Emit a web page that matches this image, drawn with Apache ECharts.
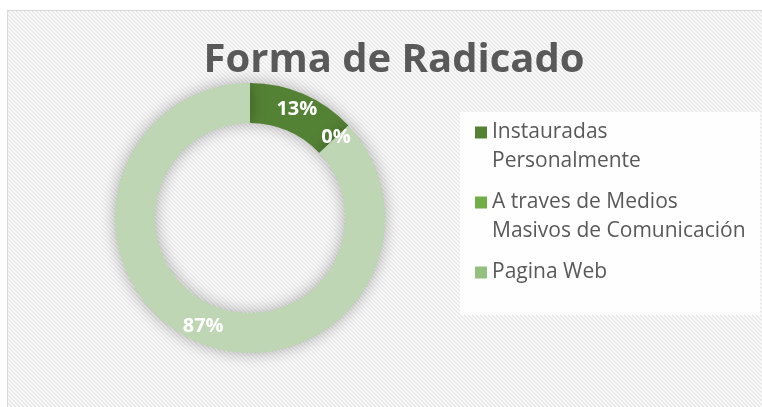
<!DOCTYPE html>
<html>
<head>
<meta charset="utf-8">
<script src="https://cdn.jsdelivr.net/npm/echarts@6/dist/echarts.min.js"></script>
<style>
  html, body { margin: 0; padding: 0; background: #fff; }
  .wrap {
    position: absolute;
    left: 7px;
    top: 10px;
    border-left: 1px solid #d9d9d9;
    border-top: 1px solid #d9d9d9;
  }
  #main { width: 754px; height: 396px; }
</style>
</head>
<body>
<div class="wrap"><div id="main"></div></div>
<script>
// datos del grafico
const categorias = ['Instauradas Personalmente', 'A traves de Medios Masivos de Comunicación', 'Pagina Web'];
const etiquetasLegend = ['Instauradas\nPersonalmente', 'A traves de Medios\nMasivos de Comunicación', 'Pagina Web'];
const valores = [13, 0, 87];
const coloresSlice = ['#548235', '#70AD47', '#BED6B3'];
const coloresLegend = ['#548235', '#70AD47', '#93C07F'];

// fondo rayado
function hatch() {
  const c = document.createElement('canvas');
  c.width = 4; c.height = 4;
  const ctx = c.getContext('2d');
  ctx.fillStyle = '#ffffff';
  ctx.fillRect(0, 0, 4, 4);
  ctx.strokeStyle = '#e6e6e6';
  ctx.lineWidth = 1.4;
  [-4, 0, 4].forEach(off => {
    ctx.beginPath();
    ctx.moveTo(off - 1, -1);
    ctx.lineTo(off + 5, 5);
    ctx.stroke();
  });
  return c;
}

const myEChart = echarts.init(document.getElementById('main'));
const option = {
  backgroundColor: { image: hatch(), repeat: 'repeat' },
  title: {
    text: 'Forma de Radicado',
    left: 381,
    textAlign: 'center',
    top: 25,
    textStyle: {
      fontFamily: 'Open Sans',
      fontWeight: 'bold',
      fontSize: 40,
      color: '#595959'
    }
  },
  graphic: [{
    type: 'rect',
    shape: { x: 452, y: 101, width: 300, height: 203 },
    style: { fill: 'rgba(255,255,255,0.92)' },
    z: 0
  }],
  legend: {
    orient: 'vertical',
    left: 467,
    top: 78,
    padding: 0,
    itemGap: -17,
    itemWidth: 12,
    itemHeight: 12,
    icon: 'rect',
    selectedMode: false,
    // linea vacia arriba para que el cuadro quede en la primera linea
    formatter: function (name) {
      const t = etiquetasLegend[categorias.indexOf(name)];
      return t.indexOf('\n') > -1 ? ' \n' + t : ' \n' + t + '\n ';
    },
    textStyle: {
      fontFamily: 'Open Sans',
      fontSize: 21,
      lineHeight: 29,
      color: '#595959'
    },
    data: categorias.map((n, i) => ({
      name: n,
      itemStyle: { color: coloresLegend[i] }
    }))
  },
  series: [{
    type: 'pie',
    center: [242, 207],
    radius: [95, 135],
    startAngle: 90,
    percentPrecision: 0,
    avoidLabelOverlap: false,
    label: {
      show: true,
      position: 'inside',
      formatter: '{d}%',
      color: '#ffffff',
      fontFamily: 'Open Sans',
      fontWeight: 'bold',
      fontSize: 20
    },
    labelLine: { show: false },
    itemStyle: {
      shadowBlur: 16,
      shadowColor: 'rgba(0,0,0,0.3)'
    },
    emphasis: { disabled: true },
    data: categorias.map((n, i) => ({
      name: n,
      value: valores[i],
      itemStyle: { color: coloresSlice[i] }
    }))
  }]
};
myEChart.setOption(option);
window.addEventListener('resize', function () {
  myEChart.resize();
});
</script>
</body>
</html>
